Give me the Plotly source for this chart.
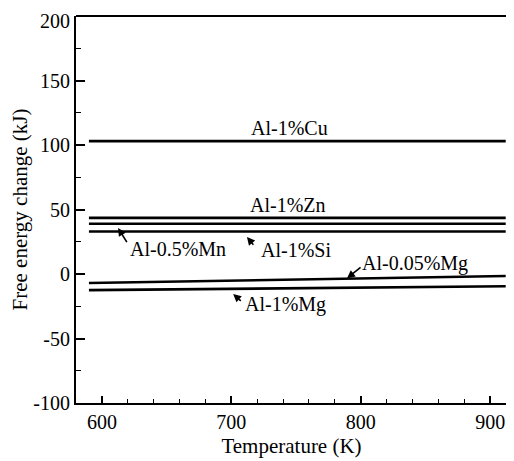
import plotly.graph_objects as go

# Data
alloys = ["Al-1%Cu", "Al-1%Zn", "Al-0.5%Mn", "Al-1%Si", "Al-0.05%Mg", "Al-1%Mg"]
temperature = [590, 912]
energy_start = [103.0, 43.5, 39.0, 33.0, -7.0, -12.5]
energy_end = [103.0, 43.5, 39.0, 33.0, -1.5, -9.5]

x_ticks = [600, 700, 800, 900]
x_tick_labels = ["600", "700", "800", "900"]
y_ticks = [-100, -50, 0, 50, 100, 150, 200]
y_tick_labels = ["-100", "-50", "0", "50", "100", "150", "200"]

FONT = "Liberation Serif"

fig = go.Figure()
for name, y0, y1 in zip(alloys, energy_start, energy_end):
    fig.add_trace(go.Scatter(
        x=temperature, y=[y0, y1], mode="lines", name=name,
        line=dict(color="black", width=2.6), showlegend=False))

# plain labels
fig.add_annotation(x=745, y=113, text="Al-1%Cu", showarrow=False,
                   font=dict(family=FONT, size=20, color="black"))
fig.add_annotation(x=744, y=53.5, text="Al-1%Zn", showarrow=False,
                   font=dict(family=FONT, size=20, color="black"))

# arrow labels: (text, text_x_left, text_y, tip_x, tip_y, tail_x, tail_y)
arrow_labels = [
    ("Al-0.5%Mn", 620.5, 19.4, 612.5, 35.7, 620.0, 23.5),
    ("Al-1%Si", 721.4, 18.6, 712.1, 28.7, 718.0, 21.5),
    ("Al-0.05%Mg", 799.5, 7.8, 789.4, -3.3, 801.0, 6.0),
    ("Al-1%Mg", 709.0, -24.0, 701.4, -15.5, 708.5, -21.8),
]
for txt, tx, ty, hx, hy, sx, sy in arrow_labels:
    fig.add_annotation(x=tx, y=ty, text=txt, showarrow=False, xanchor="left",
                       font=dict(family=FONT, size=20, color="black"))
    fig.add_annotation(x=hx, y=hy, ax=sx, ay=sy, axref="x", ayref="y",
                       xref="x", yref="y", text="", showarrow=True,
                       arrowhead=2, arrowsize=1.0, arrowwidth=1.6,
                       arrowcolor="black")

# top tick label placed as annotation so it stays inside the page
top_label = y_tick_labels[-1]
axis_labels = y_tick_labels[:-1] + [""]
fig.add_annotation(x=0, xref="paper", y=y_ticks[-1], yref="y", text=top_label,
                   showarrow=False, xanchor="right", yanchor="top",
                   xshift=-4, yshift=8, font=dict(family=FONT, size=20, color="black"))

# top frame line
fig.add_shape(type="line", xref="paper", yref="paper", x0=0, x1=1, y0=1, y1=1,
              line=dict(color="black", width=2), layer="above")

fig.update_layout(
    width=514, height=461,
    margin=dict(l=68, r=15, t=8, b=66),
    paper_bgcolor="white", plot_bgcolor="white",
    font=dict(family=FONT, size=20, color="black"),
    xaxis=dict(
        range=[580, 913], tickvals=x_ticks, ticktext=x_tick_labels,
        ticks="inside", ticklen=7,
        tickwidth=1.5, tickcolor="black", showline=True, linecolor="black",
        linewidth=2, mirror=False, showgrid=False, zeroline=False,
        minor=dict(dtick=20, ticks="inside", ticklen=4, tickcolor="black",
                   tickwidth=1.2, showgrid=False),
        title=dict(text="Temperature (K)", standoff=6,
                   font=dict(family=FONT, size=21)),
        tickfont=dict(family=FONT, size=20), automargin=False),
    yaxis=dict(
        range=[-100, 200], tickvals=y_ticks, ticktext=axis_labels,
        ticks="inside", ticklen=9,
        tickwidth=1.5, tickcolor="black", showline=True, linecolor="black",
        linewidth=2, mirror=False, showgrid=False, zeroline=False,
        minor=dict(dtick=25, ticks="inside", ticklen=5, tickcolor="black",
                   tickwidth=1.2, showgrid=False),
        title=dict(text="Free energy change (kJ)", standoff=4,
                   font=dict(family=FONT, size=21)),
        tickfont=dict(family=FONT, size=20), automargin=False),
)

fig.write_html("out.html")
